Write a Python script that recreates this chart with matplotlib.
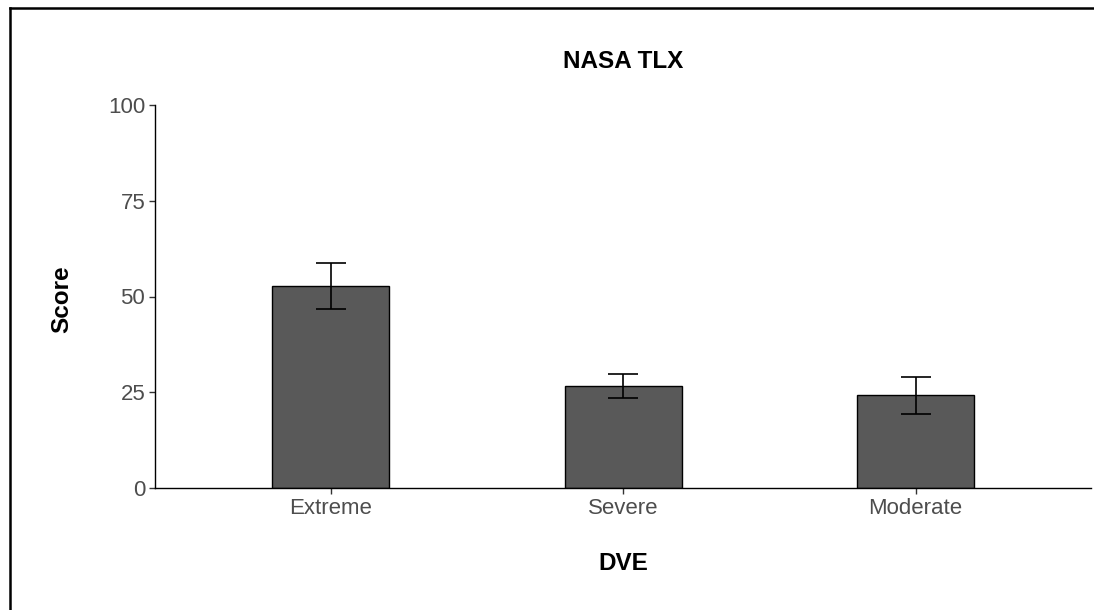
import matplotlib
matplotlib.use("Agg")
import matplotlib.pyplot as plt
from matplotlib.lines import Line2D

categories = ["Extreme", "Severe", "Moderate"]
scores = [52.7, 26.6, 24.2]
errors = [6.0, 3.2, 4.9]
y_ticks = [0, 25, 50, 75, 100]

W, H = 1094, 610
fig = plt.figure(figsize=(W / 100, H / 100), dpi=100)
plt.rcParams["font.family"] = ["Liberation Sans", "DejaVu Sans"]

# axes box in pixel coordinates from the reference
left, right, top, bottom = 155, 1091, 105, 488
ax = fig.add_axes([left / W, 1 - bottom / H, (right - left) / W, (bottom - top) / H])

x = list(range(1, len(categories) + 1))
ax.bar(x, scores, width=0.4, color="#595959", edgecolor="black", linewidth=1.0, zorder=2)
ax.errorbar(x, scores, yerr=errors, fmt="none", ecolor="black", elinewidth=1.2,
            capsize=10.8, capthick=1.2, zorder=3)

ax.set_xlim(0.4, 3.6)
ax.set_ylim(0, 100)
ax.set_xticks(x)
ax.set_xticklabels(categories)
ax.set_yticks(y_ticks)
ax.tick_params(axis="both", labelsize=16, labelcolor="#4D4D4D", color="#333333",
               length=4, width=1, pad=3)
for side in ["top", "right"]:
    ax.spines[side].set_visible(False)
for side in ["left", "bottom"]:
    ax.spines[side].set_linewidth(1.0)
    ax.spines[side].set_color("black")

cx = (left + right) / 2 / W
fig.text(cx, 1 - 61 / H, "NASA TLX", ha="center", va="center", fontsize=17.5, fontweight="bold")
fig.text(cx, 1 - 563 / H, "DVE", ha="center", va="center", fontsize=17.5, fontweight="bold")
fig.text(62 / W, 1 - 299 / H, "Score", ha="center", va="center", rotation=90,
         fontsize=17.5, fontweight="bold")

# screenshot frame along top and left edges
fig.add_artist(Line2D([10 / W, 1], [1 - 8 / H, 1 - 8 / H], transform=fig.transFigure,
                      color="black", linewidth=1.8))
fig.add_artist(Line2D([10 / W, 10 / W], [0, 1 - 8 / H], transform=fig.transFigure,
                      color="black", linewidth=1.8))

fig.savefig("out.png", dpi=100)
